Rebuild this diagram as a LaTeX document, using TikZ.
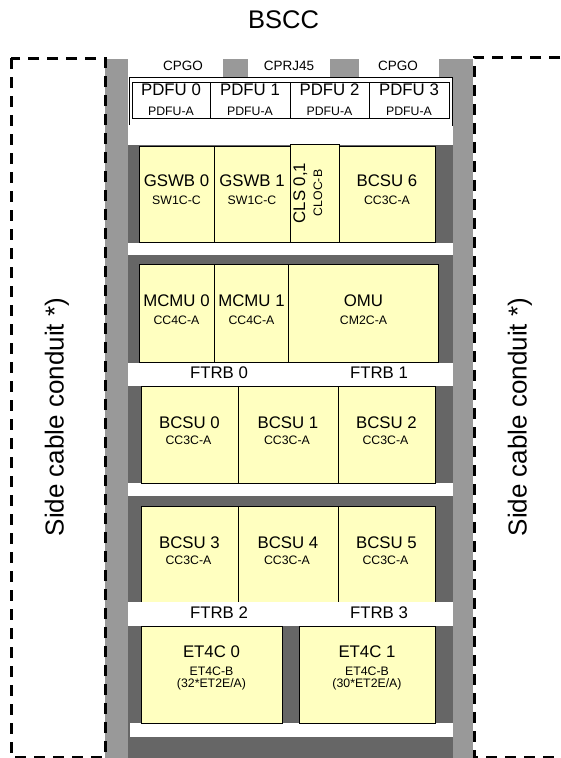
\documentclass[tikz,border=0pt]{standalone}
\usepackage{fontspec}
\setmainfont{Liberation Sans}
\definecolor{cardyellow}{RGB}{255,255,192}
\definecolor{lgray}{RGB}{153,153,153}
\definecolor{dgray}{RGB}{102,102,102}
\begin{document}
\begin{tikzpicture}[x=1pt,y=-1pt,
  card/.style={draw=black, fill=cardyellow, line width=1pt},
  pdfubox/.style={draw=black, fill=white, line width=0.9pt},
  frameline/.style={draw=black, line width=0.9pt},
  maintxt/.style={inner sep=0pt, anchor=base, font=\fontsize{16.8}{18}\selectfont},
  subtxt/.style={inner sep=0pt, anchor=base, font=\fontsize{12.3}{14}\selectfont},
  toptxt/.style={inner sep=0pt, anchor=base, font=\fontsize{13.5}{15}\selectfont},
  titletxt/.style={inner sep=0pt, anchor=base, font=\fontsize{25.5}{28}\selectfont},
  sidetxt/.style={inner sep=0pt, anchor=base, rotate=90, font=\fontsize{26}{28}\selectfont},
  rmain/.style={maintxt, rotate=90},
  rsub/.style={subtxt, rotate=90},
  conduit/.style={draw=black, line width=3pt, dash pattern=on 11pt off 8pt},
]
\useasboundingbox (0,0) rectangle (560,758);
\fill[white] (0,0) rectangle (560,758);

% cabinet side columns
\fill[lgray] (105,59) rectangle (128,758);
\fill[lgray] (453,59) rectangle (473,758);
% top strip blocks
\fill[lgray] (223,59) rectangle (248,77);
\fill[lgray] (330,59) rectangle (359,77);
\fill[lgray] (439,59) rectangle (453,77);
% shelves
\fill[dgray] (128,145) rectangle (453,243);
\fill[dgray] (128,255) rectangle (453,363);
\fill[dgray] (128,386) rectangle (453,483);
\fill[dgray] (128,496) rectangle (453,602);
\fill[dgray] (128,626) rectangle (453,758);
\fill[white] (130,723) rectangle (453,737);

% side conduits
\draw[conduit] (11,58) rectangle (105,757);
\draw[conduit] (560,57) -- (474,57) -- (474,757) -- (560,757);

% title and side labels
\node[titletxt] (title) at (283.5,28) {BSCC};
\node[sidetxt] (condL) at (63.5,417) {Side cable conduit *)};
\node[sidetxt] (condR) at (526.5,417) {Side cable conduit *)};

% top strip labels
\node[toptxt] (cpgoL) at (183,70.5) {CPGO};
\node[toptxt] (cprj) at (289,70.5) {CPRJ45};
\node[toptxt] (cpgoR) at (398,70.5) {CPGO};

% PDFU row
\draw[frameline] (129.5,125) -- (129.5,77.5) -- (452.5,77.5) -- (452.5,126);
\draw[pdfubox] (132,82) rectangle (210,118);
\draw[pdfubox] (210,82) rectangle (290,118);
\draw[pdfubox] (290,82) rectangle (369,118);
\draw[pdfubox] (369,82) rectangle (449,118);
\node[maintxt] (p0) at (171,95) {PDFU 0};
\node[maintxt] (p1) at (250,95) {PDFU 1};
\node[maintxt] (p2) at (329.5,95) {PDFU 2};
\node[maintxt] (p3) at (409,95) {PDFU 3};
\node[subtxt] (p0s) at (171,115) {PDFU-A};
\node[subtxt] (p1s) at (250,115) {PDFU-A};
\node[subtxt] (p2s) at (329.5,115) {PDFU-A};
\node[subtxt] (p3s) at (409,115) {PDFU-A};

% shelf 1
\draw[card] (139,146) rectangle (214,242.5);
\draw[card] (214,146) rectangle (290,242.5);
\draw[card] (290,144.5) rectangle (339,242.5);
\draw[card] (339,146) rectangle (435,242.5);
\node[maintxt] (gswb0) at (176.5,186) {GSWB 0};
\node[subtxt] (gswb0s) at (176.5,204) {SW1C-C};
\node[maintxt] (gswb1) at (252,186) {GSWB 1};
\node[subtxt] (gswb1s) at (252,204) {SW1C-C};
\node[rmain] (cls) at (305,193) {CLS 0,1};
\node[rsub] (clss) at (322,193) {CLOC-B};
\node[maintxt] (bcsu6) at (387,186) {BCSU 6};
\node[subtxt] (bcsu6s) at (387,204) {CC3C-A};

% shelf 2
\draw[card] (139,264) rectangle (214,362);
\draw[card] (214,264) rectangle (288,362);
\draw[card] (288,264) rectangle (438,362);
\node[maintxt] (mcmu0) at (176.5,306) {MCMU 0};
\node[subtxt] (mcmu0s) at (176.5,324) {CC4C-A};
\node[maintxt] (mcmu1) at (251.5,306) {MCMU 1};
\node[subtxt] (mcmu1s) at (251.5,324) {CC4C-A};
\node[maintxt] (omu) at (363.5,306) {OMU};
\node[subtxt] (omus) at (363.5,324) {CM2C-A};

\node[maintxt] (ftrb0) at (219,378) {FTRB 0};
\node[maintxt] (ftrb1) at (379,378) {FTRB 1};

% shelf 3
\draw[card] (141,386) rectangle (238,483);
\draw[card] (238,386) rectangle (338,483);
\draw[card] (338,386) rectangle (435,483);
\node[maintxt] (bcsu0) at (189.5,428) {BCSU 0};
\node[subtxt] (bcsu0s) at (188.5,444) {CC3C-A};
\node[maintxt] (bcsu1) at (288,428) {BCSU 1};
\node[subtxt] (bcsu1s) at (287,444) {CC3C-A};
\node[maintxt] (bcsu2) at (386.5,428) {BCSU 2};
\node[subtxt] (bcsu2s) at (385.5,444) {CC3C-A};

% shelf 4
\draw[card] (141,506) rectangle (238,602);
\draw[card] (238,506) rectangle (338,602);
\draw[card] (338,506) rectangle (435,602);
\node[maintxt] (bcsu3) at (189.5,548) {BCSU 3};
\node[subtxt] (bcsu3s) at (188.5,564) {CC3C-A};
\node[maintxt] (bcsu4) at (288,548) {BCSU 4};
\node[subtxt] (bcsu4s) at (287,564) {CC3C-A};
\node[maintxt] (bcsu5) at (386.5,548) {BCSU 5};
\node[subtxt] (bcsu5s) at (385.5,564) {CC3C-A};

\fill[white] (128,602) rectangle (453,626);
\node[maintxt] (ftrb2) at (219,618) {FTRB 2};
\node[maintxt] (ftrb3) at (379,618) {FTRB 3};

% shelf 5
\draw[card] (141,626) rectangle (282,723);
\draw[card] (299,626) rectangle (435,723);
\node[maintxt] (et0) at (211.5,657) {ET4C 0};
\node[subtxt] (et0s) at (211.5,675) {ET4C-B};
\node[subtxt] (et0t) at (211.5,687) {(32*ET2E/A)};
\node[maintxt] (et1) at (367,657) {ET4C 1};
\node[subtxt] (et1s) at (367,675) {ET4C-B};
\node[subtxt] (et1t) at (367,687) {(30*ET2E/A)};
\end{tikzpicture}
\end{document}
